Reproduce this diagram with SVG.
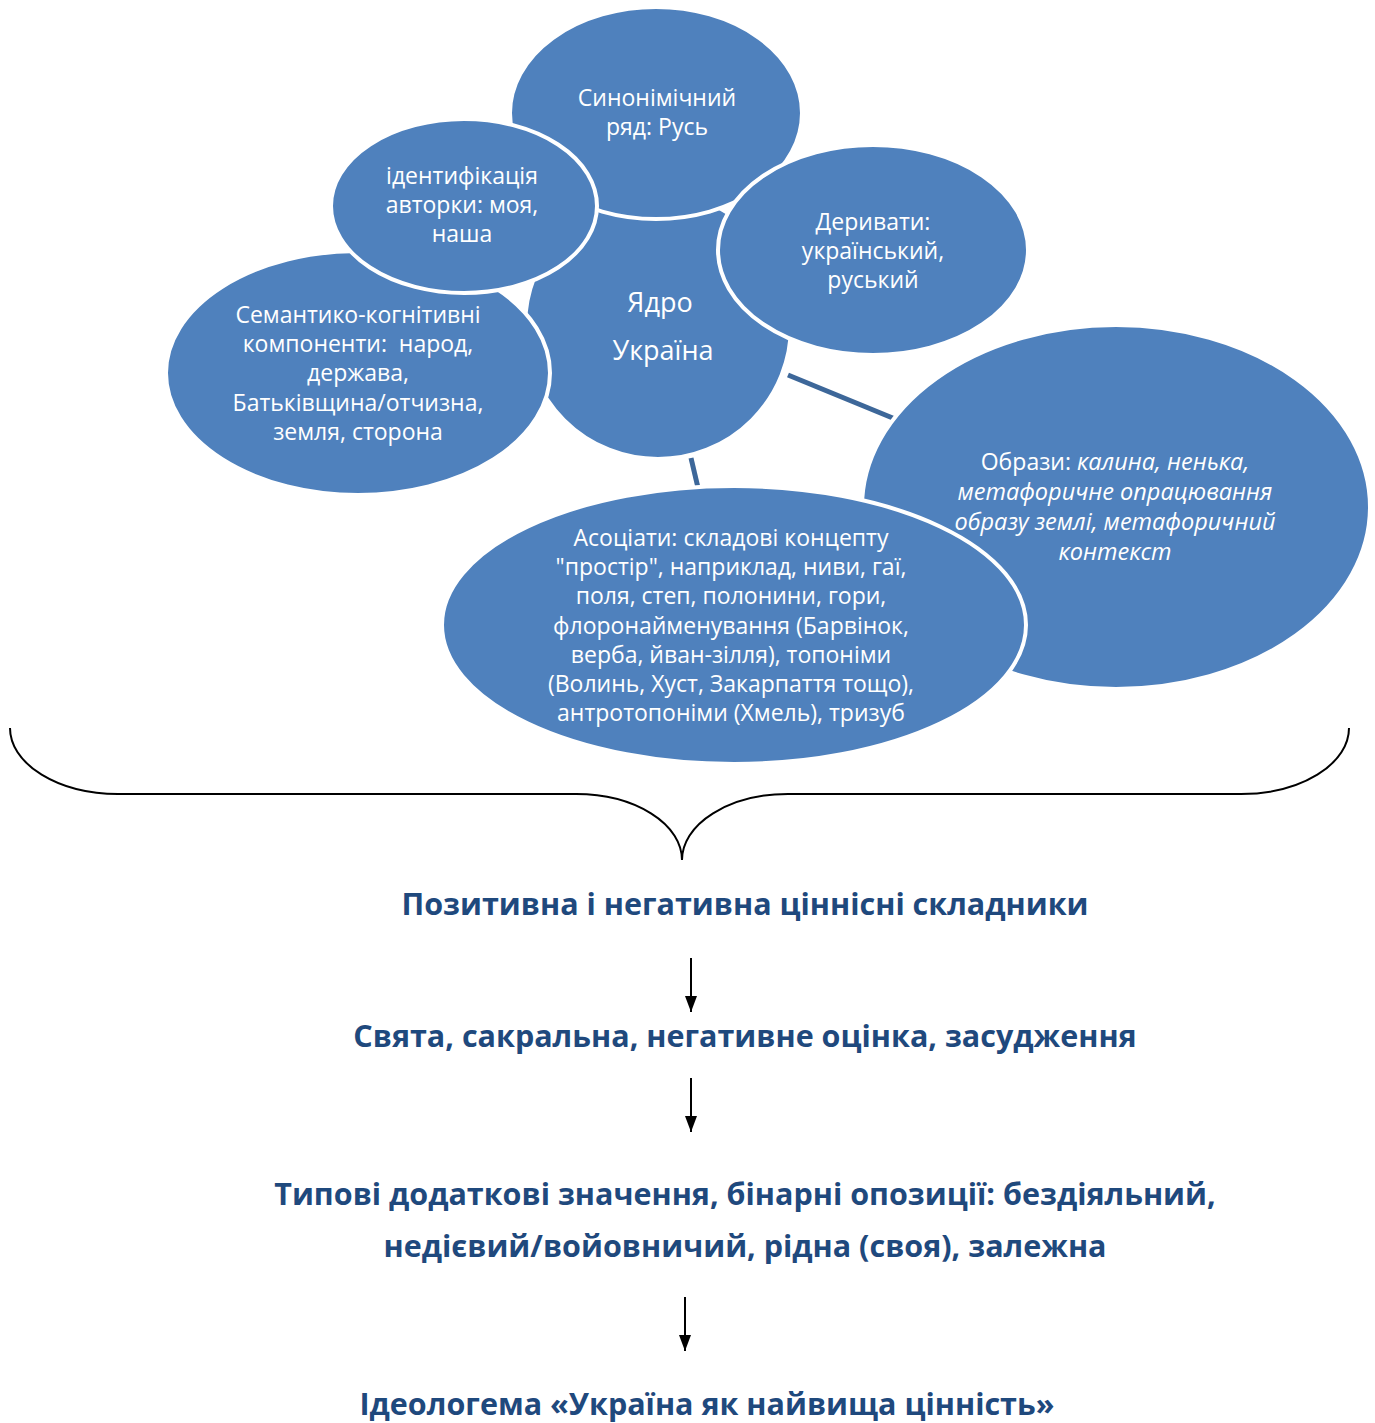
<svg xmlns="http://www.w3.org/2000/svg" width="1375" height="1423" viewBox="0 0 1375 1423">
<defs>
<style>
.node{fill:#4F81BD;stroke:#FFFFFF;stroke-width:4}
.t{font-family:"Open Sans","Noto Sans","DejaVu Sans",sans-serif;font-size:23px;fill:#FFFFFF;text-anchor:middle}
.core{font-size:27px}
.it{font-style:italic;font-size:23.5px}
.conn{stroke:#3D6799;stroke-width:5;fill:none}
.brace{stroke:#000000;stroke-width:2;fill:none}
.b{font-family:"Open Sans","Noto Sans","DejaVu Sans",sans-serif;font-size:30.5px;font-weight:bold;fill:#1F497D;text-anchor:middle}
.arr{stroke:#000000;stroke-width:2;fill:none}
</style>
<marker id="ah" viewBox="0 0 16 12" refX="16" refY="6" markerWidth="16" markerHeight="12" markerUnits="userSpaceOnUse" orient="auto">
<path d="M0,0 L16,6 L0,12 Z" fill="#000000"/>
</marker>
</defs>
<rect width="1375" height="1423" fill="#FFFFFF"/>

<g id="core">
<circle class="node" cx="658" cy="326" r="133" stroke="none"/>
<text class="t core"><tspan x="660" y="312">Ядро</tspan><tspan x="663" y="360">Україна</tspan></text>
</g>

<g id="connectors">
<line class="conn" x1="788" y1="375" x2="900" y2="421"/>
<line class="conn" x1="691" y1="458" x2="699" y2="492"/>
</g>

<g id="semantic">
<ellipse class="node" cx="358" cy="373" rx="192" ry="122"/>
<text class="t"><tspan x="358" y="323">Семантико-когнітивні</tspan><tspan x="358" y="352">компоненти:&#160; народ,</tspan><tspan x="358" y="381">держава,</tspan><tspan x="358" y="411">Батьківщина/отчизна,</tspan><tspan x="358" y="440">земля, сторона</tspan></text>
</g>

<g id="synonym">
<ellipse class="node" cx="656" cy="113" rx="146" ry="106"/>
<text class="t"><tspan x="657" y="106">Синонімічний</tspan><tspan x="657" y="135">ряд: Русь</tspan></text>
</g>

<g id="identification">
<ellipse class="node" cx="464" cy="206" rx="133" ry="87"/>
<text class="t"><tspan x="462" y="184">ідентифікація</tspan><tspan x="462" y="213">авторки: моя,</tspan><tspan x="462" y="242">наша</tspan></text>
</g>

<g id="derivatives">
<ellipse class="node" cx="873" cy="250" rx="155" ry="105"/>
<text class="t"><tspan x="873" y="230">Деривати:</tspan><tspan x="873" y="259">український,</tspan><tspan x="873" y="288">руський</tspan></text>
</g>

<g id="images">
<ellipse class="node" cx="1116" cy="507" rx="254" ry="182"/>
<text class="t"><tspan x="1115" y="470">Образи: <tspan class="it">калина, ненька,</tspan></tspan><tspan class="it" x="1115" y="500">метафоричне опрацювання</tspan><tspan class="it" x="1115" y="530">образу землі, метафоричний</tspan><tspan class="it" x="1115" y="560">контекст</tspan></text>
</g>

<g id="associates">
<ellipse class="node" cx="734" cy="625" rx="292" ry="139"/>
<text class="t"><tspan x="731" y="546">Асоціати: складові концепту</tspan><tspan x="731" y="575">"простір", наприклад, ниви, гаї,</tspan><tspan x="731" y="604">поля, степ, полонини, гори,</tspan><tspan x="731" y="634">флоронайменування (Барвінок,</tspan><tspan x="731" y="663">верба, йван-зілля), топоніми</tspan><tspan x="731" y="692">(Волинь, Хуст, Закарпаття тощо),</tspan><tspan x="731" y="721">антротопоніми (Хмель), тризуб</tspan></text>
</g>

<g id="brace">
<path class="brace" d="M10,728 A108,66 0 0 0 118,794 L576,794 A106,66 0 0 1 682,860 A106,66 0 0 1 788,794 L1241,794 A108,66 0 0 0 1349,728"/>
</g>

<g id="value">
<text class="b" x="745" y="915">Позитивна і негативна ціннісні складники</text>
</g>
<g id="sacral">
<text class="b" x="745" y="1047">Свята, сакральна, негативне оцінка, засудження</text>
</g>
<g id="typical">
<text class="b"><tspan x="745" y="1205">Типові додаткові значення, бінарні опозиції: бездіяльний,</tspan><tspan x="745" y="1257">недієвий/войовничий, рідна (своя), залежна</tspan></text>
</g>
<g id="ideologeme">
<text class="b" x="707" y="1415">Ідеологема «Україна як найвища цінність»</text>
</g>

<g id="arrows">
<line class="arr" x1="691" y1="958" x2="691" y2="1012" marker-end="url(#ah)"/>
<line class="arr" x1="691" y1="1078" x2="691" y2="1132" marker-end="url(#ah)"/>
<line class="arr" x1="685" y1="1297" x2="685" y2="1351" marker-end="url(#ah)"/>
</g>
</svg>
